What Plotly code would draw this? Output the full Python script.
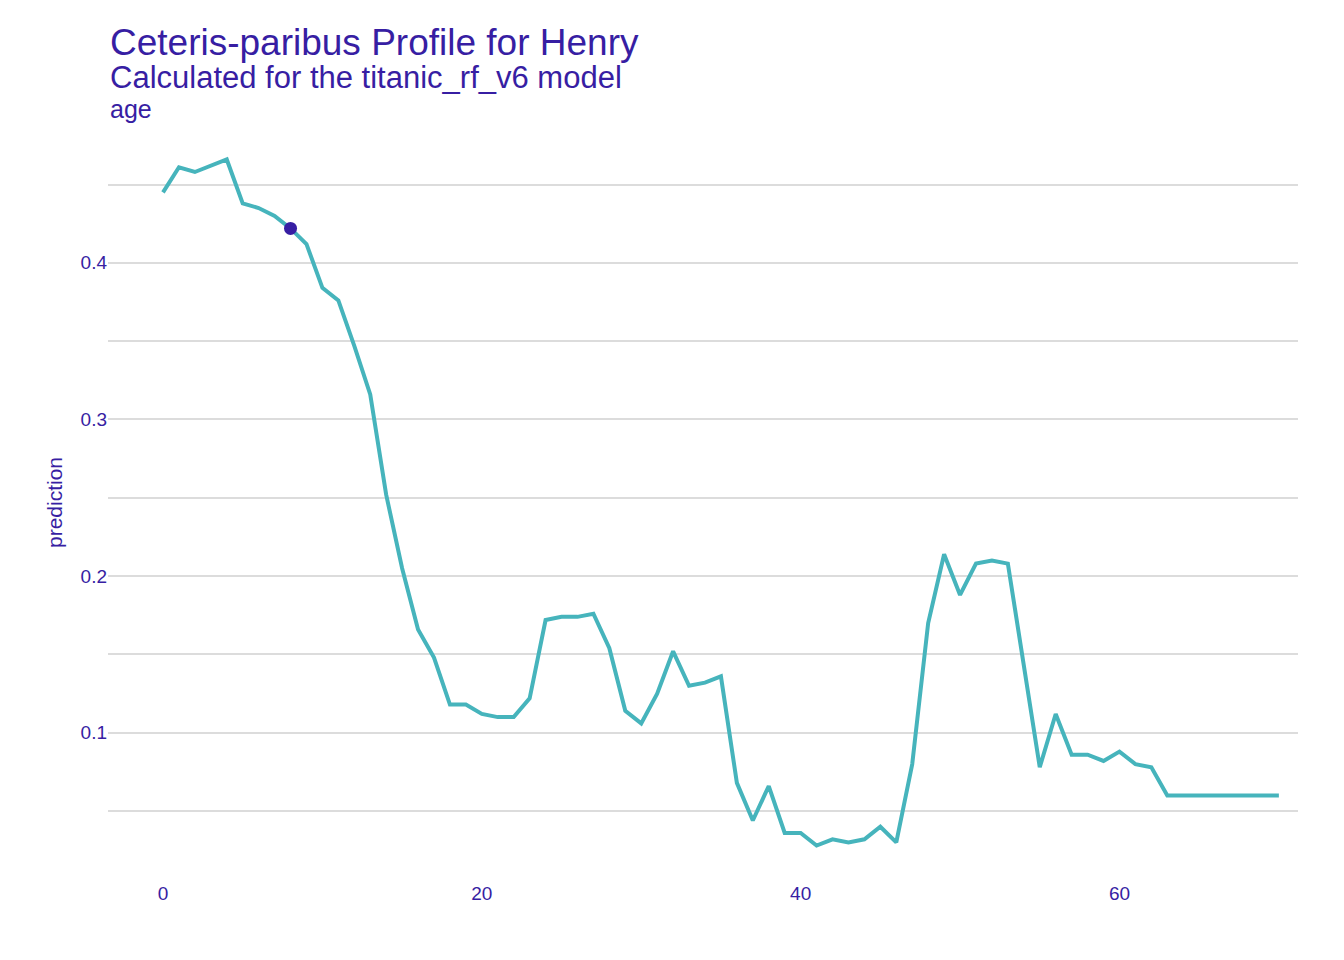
import plotly.graph_objects as go

ages = list(range(0, 71))
prediction = [
    0.445, 0.461, 0.458, 0.462, 0.466, 0.438, 0.435, 0.430, 0.422, 0.412,
    0.384, 0.376, 0.347, 0.316, 0.252, 0.205, 0.166, 0.148, 0.118, 0.118,
    0.112, 0.110, 0.110, 0.122, 0.172, 0.174, 0.174, 0.176, 0.154, 0.114,
    0.106, 0.125, 0.152, 0.130, 0.132, 0.136, 0.068, 0.044, 0.066, 0.036,
    0.036, 0.028, 0.032, 0.030, 0.032, 0.040, 0.030, 0.080, 0.170, 0.214,
    0.188, 0.208, 0.210, 0.208, 0.141, 0.078, 0.112, 0.086, 0.086, 0.082,
    0.088, 0.080, 0.078, 0.060, 0.060, 0.060, 0.060, 0.060, 0.060, 0.060,
    0.060,
]
obs_age = [8]
obs_pred = [0.422]

dark = "#371ea3"
font = "Liberation Sans, Arial, sans-serif"

fig = go.Figure()
fig.add_trace(go.Scatter(x=ages, y=prediction, mode="lines",
                         line=dict(color="#46b4bc", width=4), showlegend=False))
fig.add_trace(go.Scatter(x=obs_age, y=obs_pred, mode="markers",
                         marker=dict(color=dark, size=13), showlegend=False))

fig.update_layout(
    width=1344, height=960,
    margin=dict(l=100, r=54, t=117, b=88),
    plot_bgcolor="white", paper_bgcolor="white",
    font=dict(family=font, color=dark, size=19),
    xaxis=dict(range=[-3.45, 71.2], tickvals=[0, 20, 40, 60], showgrid=False,
               zeroline=False, ticks="", automargin=False,
               tickfont=dict(size=19, color=dark)),
    yaxis=dict(range=[0.006, 0.488], tickvals=[0.1, 0.2, 0.3, 0.4],
               ticktext=["0.1", "0.2", "0.3", "0.4"], zeroline=False, automargin=False,
               showgrid=True, gridcolor="#dcdcdc", gridwidth=2,
               minor=dict(tickvals=[0.05, 0.15, 0.25, 0.35, 0.45],
                          showgrid=True, gridcolor="#dcdcdc", gridwidth=2),
               tickfont=dict(size=19, color=dark),
               title=dict(text="prediction", font=dict(size=21, color=dark), standoff=12)),
    annotations=[
        dict(text="Ceteris-paribus Profile for Henry", x=0, y=1, xref="paper", yref="paper",
             xanchor="left", yanchor="bottom", yshift=60, showarrow=False,
             font=dict(size=37, color=dark)),
        dict(text="Calculated for the titanic_rf_v6 model", x=0, y=1, xref="paper", yref="paper",
             xanchor="left", yanchor="bottom", yshift=28, showarrow=False,
             font=dict(size=31, color=dark)),
        dict(text="age", x=0, y=1, xref="paper", yref="paper",
             xanchor="left", yanchor="bottom", yshift=0, showarrow=False,
             font=dict(size=25, color=dark)),
    ],
)

fig.write_html("out.html")
